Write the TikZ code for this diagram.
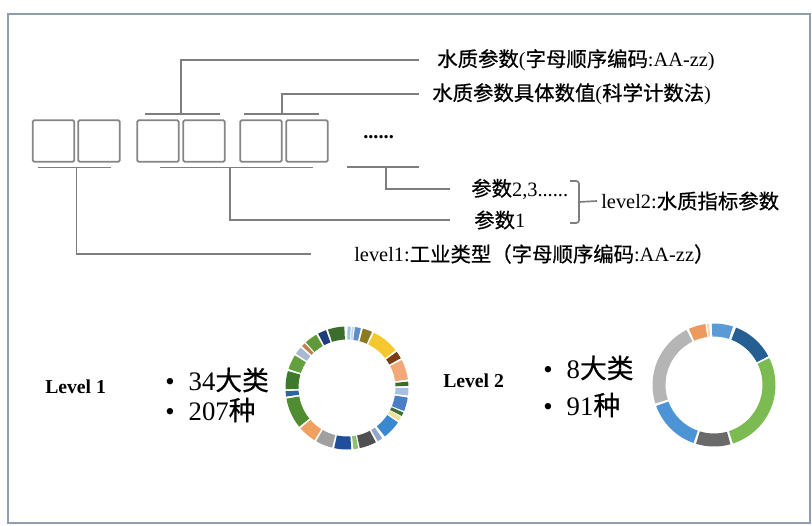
\documentclass[tikz,border=0pt]{standalone}
\usepackage{fontspec}
\usepackage{tikz}
\usetikzlibrary{calc}
\setmainfont{Liberation Serif}
\newfontfamily\cjk{Noto Sans CJK SC}[FakeBold=0.6]
\newcommand{\zh}[1]{{\cjk #1}}
\definecolor{framec}{HTML}{8E9EAE}
\definecolor{boxgray}{HTML}{858585}
\definecolor{linegray}{HTML}{7E7E7E}
% ring 1 colours
\definecolor{r1}{HTML}{9DC3E6}\definecolor{r2}{HTML}{C5D9EE}\definecolor{r3}{HTML}{5B8FC8}
\definecolor{r4}{HTML}{8C7A1E}\definecolor{r5}{HTML}{F5C830}\definecolor{r6}{HTML}{7A3E14}
\definecolor{r7}{HTML}{F2A878}\definecolor{r8}{HTML}{3A6E2A}\definecolor{r9}{HTML}{A8C0E0}
\definecolor{r10}{HTML}{4A7FC8}\definecolor{r11}{HTML}{3E6E30}\definecolor{r12}{HTML}{F0E0A0}
\definecolor{r13}{HTML}{3C88D0}\definecolor{r14}{HTML}{90A8C8}\definecolor{r15}{HTML}{505050}
\definecolor{r16}{HTML}{90C070}\definecolor{r17}{HTML}{1F4E9A}\definecolor{r18}{HTML}{A0A0A0}
\definecolor{r19}{HTML}{F0A060}\definecolor{r20}{HTML}{4F8C32}\definecolor{r21}{HTML}{2E64A8}
\definecolor{r22}{HTML}{3D7A2C}\definecolor{r23}{HTML}{62A040}\definecolor{r24}{HTML}{A8B8D0}
\definecolor{r25}{HTML}{C08050}\definecolor{r26}{HTML}{5E9A3A}\definecolor{r27}{HTML}{1F3D7A}
\definecolor{r28}{HTML}{3B6E2A}
% ring 2 colours
\definecolor{q1}{HTML}{EE9A5E}\definecolor{q2}{HTML}{F0D8B0}\definecolor{q3}{HTML}{5B9BD5}
\definecolor{q4}{HTML}{255E91}\definecolor{q5}{HTML}{7CBA52}\definecolor{q6}{HTML}{6A6A6A}
\definecolor{q7}{HTML}{4D94D6}\definecolor{q8}{HTML}{B5B5B5}
\newcommand{\outr}{61.5}
\newcommand{\inr}{48.5}
% one piece of a ring: centre, from, to (degrees, clockwise from top), colour
\newcommand{\ringseg}[4]{\fill[#4] ([shift={(90-#2:\outr)}]#1) arc[start angle=90-#2,end angle=90-#3,radius=\outr] -- ([shift={(90-#3:\inr)}]#1) arc[start angle=90-#3,end angle=90-#2,radius=\inr] -- cycle;}

\begin{document}
\begin{tikzpicture}[x=0.025cm,y=0.025cm,
  cell/.style={draw=boxgray,line width=1.3pt,rounded corners=1pt,minimum width=1.04cm,minimum height=1.04cm,inner sep=0pt},
  lbl/.style={anchor=west,inner sep=0pt,font=\fontsize{14.5}{16}\selectfont},
  wire/.style={draw=linegray,line width=1.2pt},
  big/.style={anchor=west,inner sep=0pt,font=\fontsize{19}{22}\selectfont},
  lvl/.style={anchor=west,inner sep=0pt,font=\fontsize{14}{16}\selectfont\bfseries}]
\useasboundingbox (0,0) rectangle (812,-526);
\draw[framec,line width=1.5pt] (8,-14) rectangle (810,-523);

% code cells
\node[cell] (c1) at (53.5,-141) {};
\node[cell] (c2) at (99,-141) {};
\node[cell] (c3) at (158,-141) {};
\node[cell] (c4) at (204,-141) {};
\node[cell] (c5) at (261,-141) {};
\node[cell] (c6) at (307,-141) {};
\node[lbl] (dots) at (363,-137) {\textbf{......}};

% labels
\node[lbl] (t1) at (437,-60) {\zh{水质参数}(\zh{字母顺序编码}:AA-zz)};
\node[lbl] (t2) at (432,-94) {\zh{水质参数具体数值}(\zh{科学计数法})};
\node[lbl] (t3) at (471,-189) {\zh{参数}2,3......};
\node[lbl] (t4) at (474,-220) {\zh{参数}1};
\node[lbl] (t5) at (601,-201) {level2:\zh{水质指标参数}};
\node[lbl] (t6) at (354,-254) {level1:\zh{工业类型（字母顺序编码}:AA-zz\zh{）}};

% bars over and under the cells
\draw[wire] ($(c1.south west)+(6,-4.7)$) -- ($(c2.south east)+(-10,-4.7)$);
\draw[wire] ($(c3.north west)+(9,5)$) -- ($(c4.north east)+(-6,5)$);
\draw[wire] ($(c5.north west)+(5,5)$) -- ($(c6.north east)+(-10,5)$);
\draw[wire] ($(c3.south)+(2,-4.7)$) -- ($(c6.south)+(6,-4.7)$);
\draw[wire] ($(dots.west)+(-16,-29.7)$) -- ($(dots.west)+(56,-29.7)$);

\coordinate (s1) at (76.6,-166.7);
\coordinate (s2) at (180.7,-115);
\coordinate (s3) at (281.7,-115);
\coordinate (s4) at (230,-166.7);
\coordinate (s5) at (386,-166.7);
\draw[wire] (s2) |- ($(t1.west)+(-18,0)$);
\draw[wire] (s3) |- ($(t2.west)+(-13,0)$);
\draw[wire] (s5) |- ($(t3.west)+(-21,0)$);
\draw[wire] (s4) |- ($(t4.west)+(-24,0)$);
\draw[wire] (s1) |- ($(t6.west)+(-43,0)$);

% bracket
\coordinate (br) at (579,-202);
\draw[wire,rounded corners=2] ($(br)+(-9,21)$) -- ($(br)+(0,21)$) -- ($(br)+(0,-21)$) -- ($(br)+(-9,-21)$);
\draw[wire] (br) -- ($(t5.west)+(-4,0)$);

% lower part
\node[lvl] (lv1) at (45,-387) {Level 1};
\node[big] (a1) at (165,-380) {\textbullet\hspace{10pt}34\zh{大类}};
\node[big] (a2) at (165,-410) {\textbullet\hspace{10pt}207\zh{种}};
\node[lvl] (lv2) at (443,-381) {Level 2};
\node[big] (b1) at (543,-368) {\textbullet\hspace{10pt}8\zh{大类}};
\node[big] (b2) at (543,-405) {\textbullet\hspace{10pt}91\zh{种}};

\coordinate (d1) at (347,-388);
\coordinate (d2) at (714,-385);
\foreach \a/\b/\c in {0.5/3.5/r1,4.5/6.5/r2,7.5/13/r3,15/24/r4,26/52/r5,54/61/r6,63/82/r7,84/88/r8,
  90/97/r9,99/112/r10,113.5/117/r11,118/122.5/r12,124/142/r13,145/150/r14,152/168/r15,169.5/174/r16,
  176/192/r17,194/210/r18,212/229/r19,231/260/r20,262/267/r21,269/286/r22,288/302/r23,304/311/r24,
  313/316.5/r25,318/330/r26,332/340/r27,342/357.5/r28}
  {\ringseg{d1}{\a}{\b}{\c}}
\foreach \a/\b/\c in {336/352/q1,353.5/355.5/q2,358/378/q3,381/422/q4,424/522/q5,524.5/557/q6,559.5/610/q7,612.5/693.5/q8}
  {\ringseg{d2}{\a}{\b}{\c}}
\end{tikzpicture}
\end{document}
